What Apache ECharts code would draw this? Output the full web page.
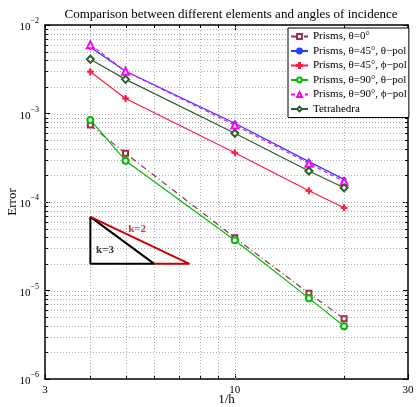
<!DOCTYPE html>
<html><head><meta charset="utf-8">
<script src="https://cdn.jsdelivr.net/npm/echarts@6/dist/echarts.min.js"></script>
<style>html,body{margin:0;padding:0;background:#fff}#c{width:416px;height:407px}</style>
</head><body><div id="c"></div>
<script>
// ---- data ----
const xValues = [4, 5, 10, 16, 20];
const prisms0 = [7.4e-4, 3.55e-4, 3.95e-5, 9.3e-6, 4.8e-6];
const prisms45Theta = [5.6e-3, 3.0e-3, 7.75e-4, 2.86e-4, 1.8e-4];
const prisms45Phi = [2.97e-3, 1.48e-3, 3.6e-4, 1.34e-4, 8.6e-5];
const prisms90Theta = [8.45e-4, 2.93e-4, 3.69e-5, 8.2e-6, 3.94e-6];
const prisms90Phi = [6.0e-3, 3.0e-3, 7.4e-4, 2.74e-4, 1.7e-4];
const tetra = [4.1e-3, 2.43e-3, 5.97e-4, 2.24e-4, 1.45e-4];
const seriesNames = ['Prisms, θ=0°', 'Prisms, θ=45°, θ−pol', 'Prisms, θ=45°, ϕ−pol',
  'Prisms, θ=90°, θ−pol', 'Prisms, θ=90°, ϕ−pol', 'Tetrahedra'];
// slope triangles
const triK3 = [[4, 6.8e-5], [4, 2e-5], [6, 2e-5], [4, 6.8e-5]];
const triK2 = [[4, 6.8e-5], [7.5, 2e-5], [6, 2e-5]];
const labelK2 = [[5.38, 4.95e-5]];
const labelK3 = [[4.39, 2.87e-5]];
// grid / tick positions
const xMinorGrid = [4, 5, 6, 7, 8, 9, 20];
const xMajorGrid = [10];
const yDecades = [1e-6, 1e-5, 1e-4, 1e-3];
const yMantissas = [2, 3, 4, 5, 6, 7, 8, 9];
const yMajorGrid = [1e-5, 1e-4, 1e-3];

const yMinorGrid = [];
yDecades.forEach(d => yMantissas.forEach(m => yMinorGrid.push(+(m * d).toPrecision(3))));

const FONT = '"Liberation Serif", "Times New Roman", serif';
const pairs = arr => xValues.map((x, i) => [x, arr[i]]);

// kind: 0 = x minor tick, 1 = y minor tick, 2 = vertical grid line, 3 = horizontal grid line
const guideData = []
  .concat(xMinorGrid.concat(xMajorGrid).map(v => [v, 1e-4, 2]))
  .concat(yMinorGrid.concat(yMajorGrid).map(v => [4, v, 3]))
  .concat(xMinorGrid.map(v => [v, 1e-4, 0]))
  .concat(yMinorGrid.map(v => [4, v, 1]));

function mk(name, data, color, symbol, size, lineType, extra) {
  return Object.assign({
    name, type: 'line', data: pairs(data), symbol, symbolSize: size,
    lineStyle: {color, width: 1.2, type: lineType},
    itemStyle: {color, borderColor: color, borderWidth: 1},
    z: 5
  }, extra || {});
}

const chart = echarts.init(document.getElementById('c'));
const axisCommon = {
  axisLine: {show: true, onZero: false, lineStyle: {color: '#000', width: 1.5}},
  axisTick: {show: true, inside: true, length: 5, lineStyle: {color: '#000'}},
  splitLine: {show: false}
};
chart.setOption({
  animation: false,
  backgroundColor: '#fff',
  textStyle: {fontFamily: FONT},
  title: {
    text: 'Comparison between different elements and angles of incidence',
    left: 226, textAlign: 'center', top: 3,
    textStyle: {fontFamily: FONT, fontSize: 13, fontWeight: 'normal', color: '#000'}
  },
  grid: {left: 45, right: 8, top: 25, bottom: 28, containLabel: false, outerBoundsMode: 'none'},
  legend: {
    data: seriesNames, orient: 'vertical', left: 288, top: 28,
    backgroundColor: '#fff', borderColor: '#000', borderWidth: 1,
    padding: [2, 2, 2, 2], itemGap: 1.5, itemWidth: 17, itemHeight: 6,
    textStyle: {fontFamily: FONT, fontSize: 11, color: '#000', lineHeight: 13},
    z: 20
  },
  xAxis: [
    Object.assign({}, axisCommon, {
      type: 'log', logBase: 10, min: 3, max: 30, position: 'bottom',
      name: '1/h', nameLocation: 'middle', nameGap: 14, nameMoveOverlap: false,
      nameTextStyle: {fontFamily: FONT, fontSize: 13, color: '#000'},
      axisLabel: {fontFamily: FONT, fontSize: 11, color: '#000', margin: 6,
        formatter: v => String(Math.round(v))}
    }),
    Object.assign({}, axisCommon, {
      type: 'log', logBase: 10, min: 3, max: 30, position: 'top',
      axisLabel: {show: false}
    })
  ],
  yAxis: [
    Object.assign({}, axisCommon, {
      type: 'log', logBase: 10, min: 1e-6, max: 1e-2, position: 'left',
      name: 'Error', nameLocation: 'middle', nameGap: 26, nameMoveOverlap: false,
      nameTextStyle: {fontFamily: FONT, fontSize: 13, color: '#000'},
      axisLabel: {
        margin: 6, color: '#000',
        formatter: v => '{b|10}{e|' + Math.round(Math.log10(v)).toString().replace('-', '−') + '}',
        rich: {
          b: {fontFamily: FONT, fontSize: 11, color: '#000', lineHeight: 16, verticalAlign: 'bottom'},
          e: {fontFamily: FONT, fontSize: 8, color: '#000', lineHeight: 16, verticalAlign: 'top'}
        }
      }
    }),
    Object.assign({}, axisCommon, {
      type: 'log', logBase: 10, min: 1e-6, max: 1e-2, position: 'right',
      axisLabel: {show: false}
    })
  ],
  series: [
    {
      name: 'guides', type: 'custom', data: guideData, silent: true, clip: false, z: 1,
      encode: {x: 0, y: 1},
      renderItem: function (params, api) {
        const kind = api.value(2);
        const st = {stroke: '#000', lineWidth: 1};
        const gs = {stroke: '#b0b0b0', lineWidth: 1, lineDash: [1, 2]};
        if (kind === 0 || kind === 2) {
          const v = api.value(0);
          const b = api.coord([v, 1e-6]);
          const t = api.coord([v, 1e-2]);
          const x = Math.round(b[0]) + 0.5;
          if (kind === 2) {
            return {type: 'line', shape: {x1: x, y1: b[1], x2: x, y2: t[1]}, style: gs};
          }
          return {type: 'group', children: [
            {type: 'line', shape: {x1: x, y1: b[1], x2: x, y2: b[1] - 3}, style: st},
            {type: 'line', shape: {x1: x, y1: t[1], x2: x, y2: t[1] + 3}, style: st}
          ]};
        } else {
          const v = api.value(1);
          const l = api.coord([3, v]);
          const r = api.coord([30, v]);
          const y = Math.round(l[1]) + 0.5;
          if (kind === 3) {
            return {type: 'line', shape: {x1: l[0], y1: y, x2: r[0], y2: y}, style: gs};
          }
          return {type: 'group', children: [
            {type: 'line', shape: {x1: l[0], y1: y, x2: l[0] + 3, y2: y}, style: st},
            {type: 'line', shape: {x1: r[0], y1: y, x2: r[0] - 3, y2: y}, style: st}
          ]};
        }
      }
    },
    {
      name: 'k3tri', type: 'line', data: triK3, symbol: 'none', silent: true, z: 3,
      lineStyle: {color: '#000', width: 2}
    },
    {
      name: 'k2tri', type: 'line', data: triK2, symbol: 'none', silent: true, z: 3,
      lineStyle: {color: '#cc0000', width: 2}
    },
    {
      name: 'k2label', type: 'scatter', data: labelK2, symbolSize: 0, silent: true,
      label: {show: true, position: 'inside', formatter: 'k=2',
        fontFamily: FONT, fontSize: 11, fontWeight: 'bold', color: '#cc0000'}
    },
    {
      name: 'k3label', type: 'scatter', data: labelK3, symbolSize: 0, silent: true,
      label: {show: true, position: 'inside', formatter: 'k=3',
        fontFamily: FONT, fontSize: 11, fontWeight: 'bold', color: '#000'}
    },
    mk(seriesNames[0], prisms0, '#9b2c4a', 'emptyRect', 5, [6, 3, 1, 3]),
    mk(seriesNames[1], prisms45Theta, '#2040ff', 'circle', 4, 'solid'),
    mk(seriesNames[2], prisms45Phi, '#ff1a40', 'path://M4,0H6V4H10V6H6V10H4V6H0V4H4Z', 6, 'solid'),
    mk(seriesNames[3], prisms90Theta, '#00bb00', 'emptyCircle', 6, 'solid'),
    mk(seriesNames[4], prisms90Phi, '#ff00ff', 'emptyTriangle', 7, [4, 3]),
    mk(seriesNames[5], tetra, '#2e5e2e', 'emptyDiamond', 7, 'solid')
  ]
});
</script>
</body></html>
